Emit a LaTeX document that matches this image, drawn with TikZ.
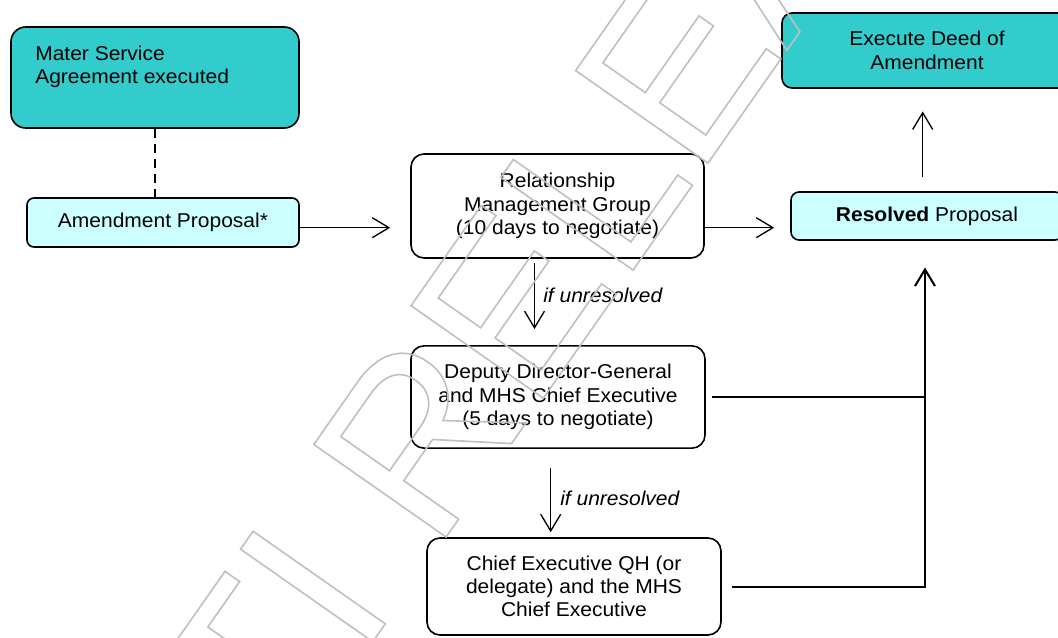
\documentclass[tikz,border=0pt]{standalone}
\usepackage{fontspec}
\setmainfont[FakeStretch=1.05]{Liberation Sans}
\newfontfamily\wmfont{Liberation Sans}
\usetikzlibrary{arrows.meta}
\definecolor{tealbox}{HTML}{33CCCC}
\definecolor{lightbox}{HTML}{CCFFFF}
\definecolor{wmgray}{HTML}{C0C0C0}
\newcommand\wmoutline[1]{\special{pdf:literal direct 1 Tr 1.2 w}#1\special{pdf:literal direct 0 Tr}}
\begin{document}
\begin{tikzpicture}[x=0.75pt,y=-0.75pt,
  every node/.style={font=\fontsize{15}{17.5}\selectfont, inner sep=0pt},
  boxbase/.style={draw=black, line width=1.2pt, align=center},
  tealfill/.style={fill=tealbox},
  lightfill/.style={fill=lightbox},
  conn/.style={draw=black, line width=1pt},
  thickconn/.style={draw=black, line width=1.5pt},
  arrowend/.style={-{Straight Barb[length=12.5pt,width=15pt]}},
  note/.style={font=\fontsize{15}{17.5}\selectfont\itshape, anchor=base west}]
\useasboundingbox (0,0) rectangle (1058,637);
\fill[white] (0,0) rectangle (1058,637);
% boxes
\node[boxbase, tealfill, rounded corners=11pt, minimum width=216pt, minimum height=75.75pt] (ms) at (155,77.5) {};
\node[anchor=north west, align=left] (mstext) at (35,45.7) {Mater Service\\Agreement executed};
\node[boxbase, lightfill, rounded corners=5.25pt, minimum width=204pt, minimum height=36.75pt] (ap) at (163,222.5) {Amendment Proposal*};
\node[boxbase, fill=white, rounded corners=9.75pt, minimum width=219.75pt, minimum height=78pt] (rmg) at (557.5,206) {Relationship\\Management Group\\(10 days to negotiate)};
\node[boxbase, lightfill, rounded corners=6pt, minimum width=204pt, minimum height=36pt] (res) at (927,216) {\textbf{Resolved} Proposal};
\node[boxbase, tealfill, rounded corners=7.5pt, minimum width=217.5pt, minimum height=56.25pt] (exe) at (927,50.5) {Execute Deed of\\Amendment};
\node[boxbase, fill=white, rounded corners=9.75pt, minimum width=220.5pt, minimum height=76.7pt] (dep) at (558,397) {Deputy Director-General\\and MHS Chief Executive\\(5 days to negotiate)};
\node[boxbase, fill=white, rounded corners=9.75pt, minimum width=220.5pt, minimum height=72.75pt] (chf) at (574,586.5) {Chief Executive QH (or\\delegate) and the MHS\\Chief Executive};
% connectors
\draw[line width=1.5pt, dash pattern=on 6.75pt off 4.5pt] (ms.south) -- (ms.south |- ap.north);
\coordinate (ya) at (0,227.7);
\draw[conn, arrowend, shorten >=15pt] (ap.east |- ya) -- (rmg.west |- ya);
\draw[conn, arrowend, shorten >=12pt] (rmg.east |- ya) -- (res.west |- ya);
\coordinate (xr) at (922.7,0);
\draw[conn, arrowend, shorten <=10.5pt, shorten >=17pt] (res.north -| xr) -- (exe.south -| xr);
\coordinate (xa) at (534.5,0);
\draw[conn, arrowend, shorten <=3pt, shorten >=12pt] (rmg.south -| xa) -- (dep.north -| xa);
\node[note] (n1) at (543,302) {if unresolved};
\coordinate (xb) at (550.7,0);
\draw[conn, arrowend, shorten <=14pt, shorten >=3.75pt] (dep.south -| xb) -- (chf.north -| xb);
\node[note] (n2) at (560,505) {if unresolved};
\coordinate (jx) at (925,0);
\draw[thickconn, shorten <=4.5pt] (dep.east) -- (dep.east -| jx);
\draw[thickconn, arrowend, shorten <=7.5pt, shorten >=20pt] (chf.east) -- (chf.east -| jx) -- (res.south -| jx);
% watermark
\node[rotate=55, anchor=base west, text=wmgray, font=\wmfont\fontsize{176}{176}\selectfont] (wm) at (183.2,912.5) {\wmoutline{RTI RELEASE}};
\end{tikzpicture}
\end{document}
